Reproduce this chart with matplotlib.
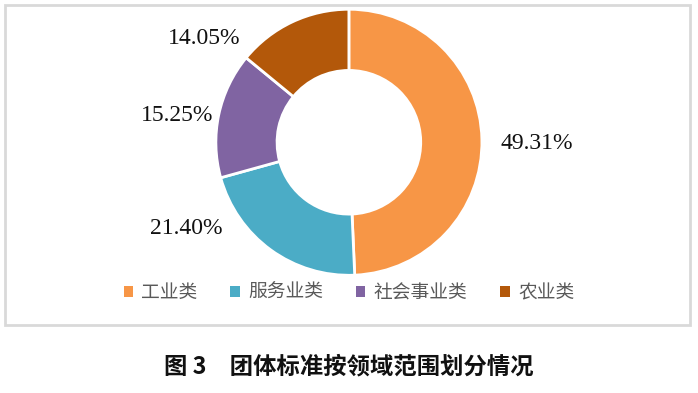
import matplotlib.pyplot as plt
from matplotlib.patches import Rectangle, Patch

plt.rcParams['font.family'] = ['Noto Sans CJK SC', 'DejaVu Sans']

categories = ['工业类', '服务业类', '社会事业类', '农业类']
shares = [49.31, 21.40, 15.25, 14.05]
colors = ['#F79646', '#4BACC6', '#8064A2', '#B3580A']
title = '图 3　团体标准按领域范围划分情况'

# position des étiquettes (en rayons, comme dans Excel)
label_pos = [(1.41, -0.01), (-1.22, -0.65), (-1.29, 0.20), (-1.09, 0.78)]

fig = plt.figure(figsize=(6.98, 3.93), dpi=100)

# cadre gris autour du graphique
fig.patches.append(Rectangle((5 / 698, 68 / 393), 685 / 698, 320 / 393,
                             transform=fig.transFigure, fill=False,
                             edgecolor='#D9D9D9', linewidth=2))

ax = fig.add_axes([0.252, 0.198, 0.4957, 0.880])
wedges, _ = ax.pie(shares, colors=colors, startangle=90, counterclock=False,
                   wedgeprops=dict(width=0.46, edgecolor='white', linewidth=2))
for v, (x, y) in zip(shares, label_pos):
    ax.text(x, y, '%.2f%%' % v, ha='center', va='center', family='Liberation Serif',
            fontsize=17, color='#111111')
ax.set_xlim(-1.3, 1.3)
ax.set_ylim(-1.3, 1.3)
ax.set_aspect('equal')

handles = [Patch(facecolor=c, edgecolor='none') for c in colors]
fig.legend(handles, categories, loc='center', bbox_to_anchor=(0.5, 0.255), ncol=4,
           frameon=False, fontsize=13.5, labelcolor='#595959',
           handlelength=0.5, handleheight=0.5, handletextpad=0.45, columnspacing=1.75)

fig.text(0.5, 1 - 367 / 393, title, ha='center', va='center',
         fontsize=16.8, fontweight='bold', color='#111111')

plt.savefig('out.png', dpi=100)
